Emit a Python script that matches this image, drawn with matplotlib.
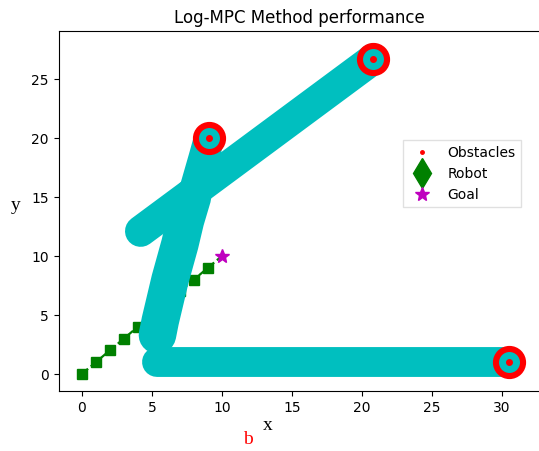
import matplotlib.pyplot as plt
from matplotlib.lines import Line2D

# obstacle paths (x, y)
obs1_x = [5.4, 30.5]
obs1_y = [1.0, 1.0]
obs2_x = [5.4, 5.6, 6.3, 7.0, 7.4, 7.9]
obs2_y = [3.3, 4.5, 8.0, 11.0, 13.0, 15.0]
obs2b_x = [7.9, 8.7, 9.1]
obs2b_y = [15.0, 18.3, 20.0]
obs3_x = [4.2, 20.8]
obs3_y = [12.1, 26.7]

# final obstacle positions
end_x = [30.5, 9.1, 20.8]
end_y = [1.0, 20.0, 26.7]

# robot path and goal
robot_x = [0, 1, 2, 3, 4, 5, 6, 7, 8, 9, 10]
robot_y = [0, 1, 2, 3, 4, 5, 6, 7, 8, 9, 10]
goal = (10, 10)

W, H = 539, 451
fig = plt.figure(figsize=(W / 100, H / 100), dpi=100)
axis = fig.add_axes([58.5 / W, 1 - 391 / H, (540 - 58.5) / W, 360 / H])

# robot first, the obstacle rings cover part of it
axis.plot(robot_x, robot_y, 'g--', lw=1.6, zorder=1)
axis.plot(robot_x[:-1], robot_y[:-1], 'gs', ms=6.5, zorder=1)

# obstacles: dense rings drawn as thick round-capped strokes
paths = [(obs1_x, obs1_y, 21.5), (obs2_x, obs2_y, 27),
         (obs2b_x, obs2b_y, 22), (obs3_x, obs3_y, 22.5)]
for ox, oy, w in paths:
    axis.plot(ox, oy, color='c', lw=w, solid_capstyle='round',
              solid_joinstyle='round', zorder=2)

axis.plot(end_x, end_y, 'o', mfc='none', mec='r', ms=19.5, mew=4.4, zorder=3)
axis.plot(end_x, end_y, 'r.', ms=8, zorder=4)

axis.plot(goal[0], goal[1], 'm*', ms=10, zorder=6)

axis.set_xlim(-1.66, 32.7)
axis.set_ylim(-1.44, 29.07)
axis.set_xticks([0, 5, 10, 15, 20, 25, 30])
axis.set_yticks([0, 5, 10, 15, 20, 25])
axis.set_title('Log-MPC Method performance', fontsize=12)

handles = [Line2D([], [], ls='none', marker='.', color='r', ms=5),
           Line2D([], [], ls='none', marker='d', color='g', ms=15),
           Line2D([], [], ls='none', marker='*', color='m', ms=10)]
axis.legend(handles, ['Obstacles', 'Robot', 'Goal'], loc='upper left',
            bbox_to_anchor=(0.715, 0.697), borderaxespad=0, fancybox=False,
            edgecolor='0.85')

serif = ['Liberation Serif', 'DejaVu Serif']
fig.text(267.5 / W, 1 - 425 / H, 'x', family=serif, fontsize=14,
         ha='center', va='center')
fig.text(16 / W, 1 - 205 / H, 'y', family=serif, fontsize=14,
         ha='center', va='center')
fig.text(248 / W, 1 - 439 / H, 'b', family=serif, fontsize=14,
         color='r', ha='center', va='center')

plt.savefig('out.png', dpi=100)
